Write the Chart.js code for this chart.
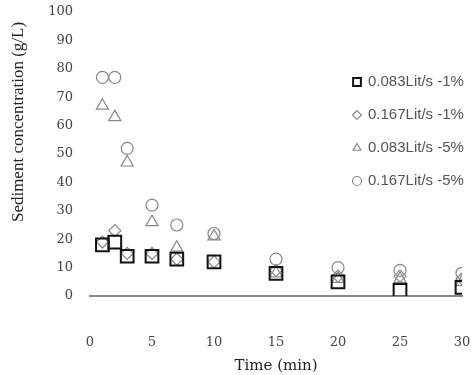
<!DOCTYPE html>
<html>
<head>
<meta charset="utf-8">
<script src="https://cdn.jsdelivr.net/npm/chart.js@4"></script>
<style>
html,body{margin:0;padding:0;background:#fff;}
#wrap{width:474px;height:375px;position:relative;}
</style>
</head>
<body>
<div id="wrap"><canvas id="c" width="474" height="375"></canvas></div>
<script>
const times = [1, 2, 3, 5, 7, 10, 15, 20, 25, 30];
const q083s1 = [18, 19, 14, 14, 13, 12, 8, 5, 2, 3];
const q167s1 = [19, 23, 15, 15, 13, 12, 9, 7, 7, 6];
const q083s5 = [67, 63, 47, 26, 17, 21, 8, 6, 6, 5];
const q167s5 = [77, 77, 52, 32, 25, 22, 13, 10, 9, 8];
const seriesLabels = ["0.083Lit/s -1%", "0.167Lit/s -1%", "0.083Lit/s -5%", "0.167Lit/s -5%"];
const xTicks = [0, 5, 10, 15, 20, 25, 30];
const yTitle = "Sediment concentration (g/L)";
const xTitle = "Time (min)";

function pts(vals){ return vals.map((v,i)=>({x: times[i], y: v})); }

const styles = [
  {pointStyle:'rect', color:'#111', r:9, w:2},
  {pointStyle:'rectRot', color:'#888', r:6, w:1.2},
  {pointStyle:'triangle', color:'#888', r:7, w:1.2},
  {pointStyle:'circle', color:'#888', r:6, w:1.2}
];
const seriesData = [q083s1, q167s1, q083s5, q167s5];

const datasets = seriesData.map((vals, i) => ({
  label: seriesLabels[i],
  data: pts(vals),
  showLine: false,
  pointStyle: styles[i].pointStyle,
  pointRadius: styles[i].r,
  pointBorderColor: styles[i].color,
  pointBackgroundColor: 'rgba(0,0,0,0)',
  pointBorderWidth: styles[i].w,
  borderColor: styles[i].color,
  backgroundColor: 'rgba(0,0,0,0)'
}));

const innerLegend = {
  id: 'innerLegend',
  afterDraw(chart){
    const ctx = chart.ctx;
    const x0 = 357, y0 = 82, dy = 33;
    chart.data.datasets.forEach((ds, i) => {
      const st = styles[i];
      const y = y0 + i*dy;
      ctx.save();
      ctx.strokeStyle = st.color;
      ctx.fillStyle = 'rgba(0,0,0,0)';
      ctx.lineWidth = st.w;
      Chart.helpers.drawPoint(ctx, {
        pointStyle: st.pointStyle, radius: st.pointStyle==='rect' ? 5.5 : 4.5,
        borderWidth: st.w, rotation: 0
      }, x0, y);
      ctx.restore();
      ctx.save();
      ctx.fillStyle = '#555';
      ctx.font = '15px "Liberation Sans", sans-serif';
      ctx.textBaseline = 'middle';
      ctx.textAlign = 'left';
      ctx.fillText(ds.label, x0 + 11, y);
      ctx.restore();
    });
    // y axis title
    ctx.save();
    ctx.translate(19, 122);
    ctx.rotate(-Math.PI/2);
    ctx.fillStyle = '#222';
    ctx.font = '17px "Liberation Serif", serif';
    ctx.textAlign = 'center';
    ctx.textBaseline = 'middle';
    ctx.fillText(yTitle, 0, 0);
    ctx.restore();
  }
};

const tickFont = { family: '"DejaVu Serif", serif', size: 13 };

new Chart(document.getElementById('c'), {
  type: 'scatter',
  data: { datasets },
  options: {
    responsive: false,
    animation: false,
    layout: { padding: { top: 12, right: 12, left: 0, bottom: 0 } },
    plugins: {
      legend: { display: false },
      tooltip: { enabled: false }
    },
    scales: {
      x: {
        type: 'linear', min: 0, max: 30,
        afterBuildTicks(s){ s.ticks = xTicks.map(v => ({value: v})); },
        afterFit(s){ s.height = 79; s.paddingLeft = 0; s.paddingRight = 0; },
        grid: { display: false, drawTicks: false },
        border: { display: true, color: '#888', width: 2 },
        ticks: { padding: 39, color: '#444', font: tickFont },
        title: { display: true, text: xTitle, color: '#222', padding: { top: 4, bottom: 0 },
                 font: { family: '"DejaVu Serif", serif', size: 15 } }
      },
      y: {
        min: 0, max: 100,
        ticks: { stepSize: 10, padding: 17, color: '#444', font: tickFont },
        afterFit(s){ s.width = 90; s.paddingTop = 0; s.paddingBottom = 0; },
        grid: { display: false, drawTicks: false },
        border: { display: false },
        title: { display: false }
      }
    }
  },
  plugins: [innerLegend]
});
</script>
</body>
</html>
